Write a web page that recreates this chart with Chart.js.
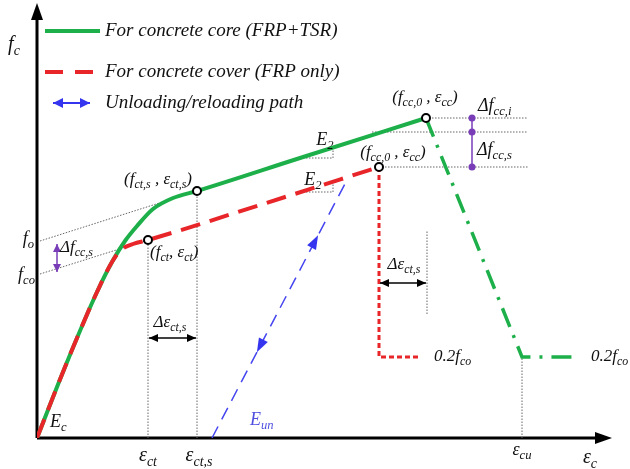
<!DOCTYPE html>
<html><head><meta charset="utf-8">
<script src="https://cdn.jsdelivr.net/npm/chart.js@4.4.1/dist/chart.umd.min.js"></script>
<style>html,body{margin:0;background:#fff}#wrap{width:630px;height:469px}</style>
</head><body><div id="wrap"><canvas id="c"></canvas></div>
<script>
// schematic stress-strain curves (x = strain, y = stress, arbitrary units)
const coreX=[0,20,40,60,75,88,100,116,136,160,263,389];
const coreY=[0,51,100,146,176,197,212,229,240,247,280,320];
const coreSoftX=[389,485,536];
const coreSoftY=[320,81,81];
const coverX=[0,20,40,60,75,84,96,111,226,342];
const coverY=[0,51,100,146,176,188,194,198,234,271];
const coverSoftX=[342,342,381];
const coverSoftY=[271,81,81];
const unloadX=[175,311];
const unloadY=[0,260];
// marked points: (fct,s,ect,s) (fct,ect) core peak, cover peak
const keyX=[160,111,389,342];
const keyY=[247,198,320,271];
// intercepts on the stress axis
const fo=197, fco=164;
const ecu=485, residual=81;

const pts=(xs,ys)=>xs.map((v,i)=>({x:v,y:ys[i]}));

const guides=[
 [[keyX[1],0],[keyX[1],keyY[1]]],
 [[keyX[0],0],[keyX[0],keyY[0]]],
 [[ecu,0],[ecu,residual]],
 [[3,fo],[keyX[0],keyY[0]]],
 [[3,fco],[keyX[1],keyY[1]]],
 [[keyX[2],keyY[2]],[491,keyY[2]]],
 [[335,306],[491,306]],
 [[keyX[3],keyY[3]],[491,keyY[3]]],
 [[263,280],[296,280],[296,290]],
 [[263,246],[296,246],[296,256]],
 [[390,124],[390,208]]
];

const datasets=[
 {data:pts(keyX,keyY),pointRadius:4,pointBorderWidth:2,pointBorderColor:'#000',pointBackgroundColor:'#fff',showLine:false},
 {data:pts(coverX,coverY),borderColor:'#e8262a',borderWidth:4,borderDash:[20,10],cubicInterpolationMode:'monotone'},
 {data:pts(coverSoftX,coverSoftY),borderColor:'#e8262a',borderWidth:3,borderDash:[5,3]},
 {data:pts(coreX,coreY),borderColor:'#1db04a',borderWidth:4,cubicInterpolationMode:'monotone'},
 {data:pts(coreSoftX,coreSoftY),borderColor:'#1db04a',borderWidth:3.5,borderDash:[20,9,3,9]},
 {data:pts(unloadX,unloadY),borderColor:'#4545f0',borderWidth:1.5,borderDash:[13,8]}
];
guides.forEach(g=>datasets.push({data:g.map(p=>({x:p[0],y:p[1]})),borderColor:'#666',borderWidth:1,borderDash:[1.5,1.5]}));
datasets.forEach(d=>{d.showLine=d.showLine!==false;if(d.pointRadius===undefined)d.pointRadius=0;});

const labels=[
 {t:'f_{c}',x:-23,y:393,s:20,a:'center'},
 {t:'ε_{c}',x:553,y:-20,s:20,a:'center'},
 {t:'ε_{ct}',x:111,y:-18,s:20,a:'center'},
 {t:'ε_{ct,s}',x:162,y:-18,s:20,a:'center'},
 {t:'ε_{cu}',x:485,y:-12,s:18,a:'center'},
 {t:'E_{c}',x:13,y:16,s:18,a:'left'},
 {t:'E_{un}',x:213,y:18,s:18,a:'left',c:'#5050e0'},
 {t:'(f_{ct,s} , ε_{ct,s})',x:121,y:258,s:17,a:'center'},
 {t:'(f_{ct}, ε_{ct})',x:113,y:185,s:17,a:'left'},
 {t:'(f_{cc,0} , ε_{cc})',x:388,y:340,s:17,a:'center'},
 {t:'(f_{cc,0} , ε_{cc})',x:356,y:285,s:17,a:'center'},
 {t:'E_{2}',x:288,y:298,s:18,a:'center'},
 {t:'E_{2}',x:276,y:258,s:18,a:'center'},
 {t:'Δf_{cc,i}',x:441,y:332,s:18,a:'left'},
 {t:'Δf_{cc,s}',x:440,y:288,s:18,a:'left'},
 {t:'f_{o}',x:-3,y:fo+2,s:18,a:'right'},
 {t:'f_{co}',x:-2,y:fco-1,s:18,a:'right'},
 {t:'Δf_{cc,s}',x:23,y:190,s:17,a:'left'},
 {t:'Δε_{ct,s}',x:133,y:115,s:17,a:'center'},
 {t:'Δε_{ct,s}',x:367,y:173,s:17,a:'center'},
 {t:'0.2f_{co}',x:397,y:81,s:17,a:'left'},
 {t:'0.2f_{co}',x:554,y:81,s:17,a:'left'}
];

const font=s=>'italic '+s+'px "Liberation Serif", "DejaVu Serif", serif';
function rich(ctx,str,x,y,size,color,align){
 const runs=[];const re=/_\{([^}]*)\}|([^_]+)/g;let m;
 while((m=re.exec(str)))runs.push(m[1]!==undefined?{t:m[1],sub:1}:{t:m[2],sub:0});
 let w=0;
 runs.forEach(r=>{ctx.font=font(r.sub?size*0.7:size);r.w=ctx.measureText(r.t).width;w+=r.w;});
 let cx=align==='center'?x-w/2:align==='right'?x-w:x;
 ctx.fillStyle=color;ctx.textBaseline='middle';ctx.textAlign='left';
 runs.forEach(r=>{ctx.font=font(r.sub?size*0.7:size);ctx.fillText(r.t,cx,r.sub?y+size*0.3:y);cx+=r.w;});
}
function head(ctx,tx,ty,ang,len,half,color){
 const c=Math.cos(ang),s=Math.sin(ang);
 ctx.fillStyle=color;ctx.beginPath();ctx.moveTo(tx,ty);
 ctx.lineTo(tx-len*c+half*s,ty-len*s-half*c);
 ctx.lineTo(tx-len*c-half*s,ty-len*s+half*c);
 ctx.closePath();ctx.fill();
}
function dbl(ctx,x1,y1,x2,y2,color,w,len,half){
 const a=Math.atan2(y2-y1,x2-x1);
 ctx.strokeStyle=color;ctx.lineWidth=w;ctx.setLineDash([]);
 ctx.beginPath();ctx.moveTo(x1,y1);ctx.lineTo(x2,y2);ctx.stroke();
 head(ctx,x2,y2,a,len,half,color);head(ctx,x1,y1,a+Math.PI,len,half,color);
}

const decor={id:'decor',
 beforeDatasetsDraw(chart){
  const {ctx,scales:{x,y}}=chart;
  ctx.save();
  ctx.strokeStyle='#000';ctx.lineWidth=3;
  ctx.beginPath();ctx.moveTo(x.getPixelForValue(0),y.getPixelForValue(0));ctx.lineTo(x.getPixelForValue(0),18);ctx.stroke();
  ctx.beginPath();ctx.moveTo(x.getPixelForValue(0),y.getPixelForValue(0));ctx.lineTo(598,y.getPixelForValue(0));ctx.stroke();
  head(ctx,x.getPixelForValue(0),3,-Math.PI/2,17,6,'#000');
  head(ctx,612,y.getPixelForValue(0),0,17,6,'#000');
  ctx.restore();
 },
 afterDatasetsDraw(chart){
  const {ctx,scales:{x,y}}=chart;
  const X=v=>x.getPixelForValue(v),Y=v=>y.getPixelForValue(v);
  ctx.save();
  // unloading arrows along the blue line
  const ang=Math.atan2(Y(unloadY[1])-Y(unloadY[0]),X(unloadX[1])-X(unloadX[0]));
  const at=t=>[X(unloadX[0]+(unloadX[1]-unloadX[0])*t),Y(unloadY[0]+(unloadY[1]-unloadY[0])*t)];
  let p=at(0.78);head(ctx,p[0],p[1],ang,14,5,'#3535f0');
  p=at(0.33);head(ctx,p[0],p[1],ang+Math.PI,14,5,'#3535f0');
  // purple stress increments
  const pu='#7a3db8';
  ctx.strokeStyle=pu;ctx.lineWidth=1.5;
  ctx.beginPath();ctx.moveTo(X(435),Y(keyY[2]));ctx.lineTo(X(435),Y(keyY[3]));ctx.stroke();
  [keyY[2],306,keyY[3]].forEach(v=>{ctx.fillStyle=pu;ctx.beginPath();ctx.arc(X(435),Y(v),3.5,0,Math.PI*2);ctx.fill();});
  dbl(ctx,X(20),Y(fo-3),X(20),Y(fco+2),pu,1.5,8,4);
  // strain increments
  dbl(ctx,X(keyX[1])+1,Y(100),X(keyX[0])-1,Y(100),'#000',1.5,9,4);
  dbl(ctx,X(keyX[3])+1,Y(155),X(390)-1,Y(155),'#000',1.5,9,4);
  labels.forEach(l=>rich(ctx,l.t,X(l.x),Y(l.y),l.s,l.c||'#111',l.a));
  // legend
  ctx.setLineDash([]);ctx.lineWidth=4;
  ctx.strokeStyle='#1db04a';ctx.beginPath();ctx.moveTo(45,31);ctx.lineTo(100,31);ctx.stroke();
  ctx.strokeStyle='#e8262a';ctx.setLineDash([18,12]);ctx.beginPath();ctx.moveTo(45,72);ctx.lineTo(100,72);ctx.stroke();
  ctx.setLineDash([]);
  dbl(ctx,53,103,90,103,'#3535f0',2,10,5);
  rich(ctx,'For concrete core (FRP+TSR)',105,31,19,'#111','left');
  rich(ctx,'For concrete cover (FRP only)',105,72,19,'#111','left');
  rich(ctx,'Unloading/reloading path',105,103,19,'#111','left');
  ctx.restore();
 }
};

new Chart(document.getElementById('c'),{
 type:'scatter',
 data:{datasets:datasets},
 options:{
  responsive:true,maintainAspectRatio:false,animation:false,
  layout:{padding:{left:37,right:23,top:8,bottom:31}},
  plugins:{legend:{display:false},tooltip:{enabled:false}},
  scales:{
   x:{type:'linear',min:0,max:570,display:false},
   y:{type:'linear',min:0,max:430,display:false}
  }
 },
 plugins:[decor]
});
</script></body></html>
